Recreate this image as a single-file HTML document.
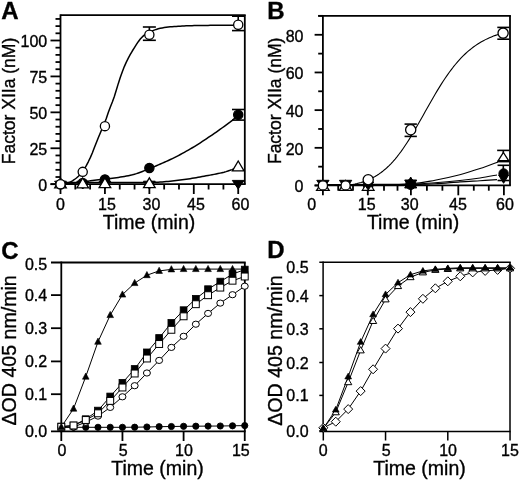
<!DOCTYPE html>
<html><head><meta charset="utf-8"><style>
html,body{margin:0;padding:0;background:#fff;overflow:hidden;}
svg{display:block;}
text{font-family:"Liberation Sans",sans-serif;fill:#000;stroke:#000;stroke-width:0.35px;}
svg{filter:grayscale(1) blur(0.3px);}
</style></head><body>
<svg width="520" height="481" viewBox="0 0 520 481">
<rect width="520" height="481" fill="#fff"/>
<line x1="60.5" y1="14.3" x2="60.5" y2="185.1" stroke="#000" stroke-width="1.8"/>
<line x1="60.5" y1="15.2" x2="245.7" y2="15.2" stroke="#000" stroke-width="1.8"/>
<line x1="244.8" y1="15.2" x2="244.8" y2="184.2" stroke="#000" stroke-width="1.8"/>
<line x1="50.5" y1="184.2" x2="245.7" y2="184.2" stroke="#000" stroke-width="1.8"/>
<line x1="50.5" y1="184.2" x2="60.5" y2="184.2" stroke="#000" stroke-width="1.8"/>
<line x1="55.5" y1="177.01" x2="60.5" y2="177.01" stroke="#000" stroke-width="1.8"/>
<line x1="55.5" y1="169.83" x2="60.5" y2="169.83" stroke="#000" stroke-width="1.8"/>
<line x1="55.5" y1="162.64" x2="60.5" y2="162.64" stroke="#000" stroke-width="1.8"/>
<line x1="55.5" y1="155.46" x2="60.5" y2="155.46" stroke="#000" stroke-width="1.8"/>
<line x1="50.5" y1="148.27" x2="60.5" y2="148.27" stroke="#000" stroke-width="1.8"/>
<line x1="55.5" y1="141.09" x2="60.5" y2="141.09" stroke="#000" stroke-width="1.8"/>
<line x1="55.5" y1="133.9" x2="60.5" y2="133.9" stroke="#000" stroke-width="1.8"/>
<line x1="55.5" y1="126.72" x2="60.5" y2="126.72" stroke="#000" stroke-width="1.8"/>
<line x1="55.5" y1="119.53" x2="60.5" y2="119.53" stroke="#000" stroke-width="1.8"/>
<line x1="50.5" y1="112.35" x2="60.5" y2="112.35" stroke="#000" stroke-width="1.8"/>
<line x1="55.5" y1="105.16" x2="60.5" y2="105.16" stroke="#000" stroke-width="1.8"/>
<line x1="55.5" y1="97.98" x2="60.5" y2="97.98" stroke="#000" stroke-width="1.8"/>
<line x1="55.5" y1="90.79" x2="60.5" y2="90.79" stroke="#000" stroke-width="1.8"/>
<line x1="55.5" y1="83.61" x2="60.5" y2="83.61" stroke="#000" stroke-width="1.8"/>
<line x1="50.5" y1="76.42" x2="60.5" y2="76.42" stroke="#000" stroke-width="1.8"/>
<line x1="55.5" y1="69.24" x2="60.5" y2="69.24" stroke="#000" stroke-width="1.8"/>
<line x1="55.5" y1="62.05" x2="60.5" y2="62.05" stroke="#000" stroke-width="1.8"/>
<line x1="55.5" y1="54.87" x2="60.5" y2="54.87" stroke="#000" stroke-width="1.8"/>
<line x1="55.5" y1="47.68" x2="60.5" y2="47.68" stroke="#000" stroke-width="1.8"/>
<line x1="50.5" y1="40.5" x2="60.5" y2="40.5" stroke="#000" stroke-width="1.8"/>
<line x1="55.5" y1="33.31" x2="60.5" y2="33.31" stroke="#000" stroke-width="1.8"/>
<line x1="55.5" y1="26.13" x2="60.5" y2="26.13" stroke="#000" stroke-width="1.8"/>
<line x1="55.5" y1="18.94" x2="60.5" y2="18.94" stroke="#000" stroke-width="1.8"/>
<line x1="60.5" y1="184.2" x2="60.5" y2="194" stroke="#000" stroke-width="1.8"/>
<line x1="75.31" y1="184.2" x2="75.31" y2="189.5" stroke="#000" stroke-width="1.8"/>
<line x1="90.12" y1="184.2" x2="90.12" y2="189.5" stroke="#000" stroke-width="1.8"/>
<line x1="104.93" y1="184.2" x2="104.93" y2="194" stroke="#000" stroke-width="1.8"/>
<line x1="119.74" y1="184.2" x2="119.74" y2="189.5" stroke="#000" stroke-width="1.8"/>
<line x1="134.55" y1="184.2" x2="134.55" y2="189.5" stroke="#000" stroke-width="1.8"/>
<line x1="149.36" y1="184.2" x2="149.36" y2="194" stroke="#000" stroke-width="1.8"/>
<line x1="164.17" y1="184.2" x2="164.17" y2="189.5" stroke="#000" stroke-width="1.8"/>
<line x1="178.98" y1="184.2" x2="178.98" y2="189.5" stroke="#000" stroke-width="1.8"/>
<line x1="193.79" y1="184.2" x2="193.79" y2="194" stroke="#000" stroke-width="1.8"/>
<line x1="208.6" y1="184.2" x2="208.6" y2="189.5" stroke="#000" stroke-width="1.8"/>
<line x1="223.41" y1="184.2" x2="223.41" y2="189.5" stroke="#000" stroke-width="1.8"/>
<line x1="238.22" y1="184.2" x2="238.22" y2="194" stroke="#000" stroke-width="1.8"/>
<text x="47.2" y="190.7" font-size="16" text-anchor="end" font-weight="normal" >0</text>
<text x="47.2" y="154.77" font-size="16" text-anchor="end" font-weight="normal" >25</text>
<text x="47.2" y="118.85" font-size="16" text-anchor="end" font-weight="normal" >50</text>
<text x="47.2" y="82.92" font-size="16" text-anchor="end" font-weight="normal" >75</text>
<text x="47.2" y="47" font-size="16" text-anchor="end" font-weight="normal" >100</text>
<text x="60.4" y="209.8" font-size="16" text-anchor="middle" font-weight="normal" >0</text>
<text x="107" y="209.8" font-size="16" text-anchor="middle" font-weight="normal" >15</text>
<text x="151.5" y="209.8" font-size="16" text-anchor="middle" font-weight="normal" >30</text>
<text x="196" y="209.8" font-size="16" text-anchor="middle" font-weight="normal" >45</text>
<text x="240.5" y="209.8" font-size="16" text-anchor="middle" font-weight="normal" >60</text>
<text x="149.05" y="229" font-size="19.5" text-anchor="middle" font-weight="normal" >Time (min)</text>
<text transform="translate(15.3,101.0) rotate(-90)" font-size="17.5" text-anchor="middle">Factor XIIa (nM)</text>
<text x="1.2" y="19.2" font-size="24" text-anchor="start" font-weight="bold" >A</text>
<path d="M60.5,184.2 L62.49,184.07 L64.49,183.74 L66.48,183.26 L68.48,182.69 L70.47,181.95 L72.47,180.84 L74.46,179.48 L76.46,178 L78.45,176.25 L80.44,174.17 L82.44,171.78 L84.43,168.89 L86.43,165.42 L88.42,161.54 L90.42,157.41 L92.41,152.71 L94.4,147.57 L96.4,142.45 L98.39,137.53 L100.39,132.68 L102.38,128.1 L104.38,123.55 L106.37,118.22 L108.37,112.34 L110.36,107.01 L112.35,102.04 L114.35,96.41 L116.34,89.98 L118.34,83.4 L120.33,77.35 L122.33,71.75 L124.32,66.6 L126.31,62.12 L128.31,58.14 L130.3,54.45 L132.3,51.02 L134.29,47.81 L136.29,44.69 L138.28,41.67 L140.28,39.08 L142.27,36.9 L144.26,35.15 L146.26,33.78 L148.25,32.64 L150.25,31.69 L152.24,30.85 L154.24,30.09 L156.23,29.41 L158.22,28.83 L160.22,28.35 L162.21,27.94 L164.21,27.56 L166.2,27.23 L168.2,26.97 L170.19,26.79 L172.19,26.64 L174.18,26.5 L176.17,26.38 L178.17,26.26 L180.16,26.15 L182.16,26.05 L184.15,25.96 L186.15,25.87 L188.14,25.79 L190.13,25.73 L192.13,25.67 L194.12,25.61 L196.12,25.57 L198.11,25.53 L200.11,25.5 L202.1,25.47 L204.1,25.45 L206.09,25.42 L208.08,25.4 L210.08,25.37 L212.07,25.35 L214.07,25.33 L216.06,25.31 L218.06,25.29 L220.05,25.28 L222.04,25.26 L224.04,25.25 L226.03,25.24 L228.03,25.22 L230.02,25.22 L232.02,25.21 L234.01,25.2 L236.01,25.2 L238,25.2" fill="none" stroke="#000" stroke-width="1.5" stroke-linejoin="round"/>
<path d="M60.5,184 L62.5,183.92 L64.5,183.81 L66.49,183.69 L68.49,183.55 L70.49,183.39 L72.49,183.22 L74.48,183.05 L76.48,182.85 L78.48,182.61 L80.48,182.34 L82.48,182.05 L84.47,181.74 L86.47,181.43 L88.47,181.13 L90.47,180.84 L92.46,180.58 L94.46,180.32 L96.46,180.06 L98.46,179.81 L100.46,179.56 L102.45,179.31 L104.45,179.07 L106.45,178.83 L108.45,178.6 L110.44,178.38 L112.44,178.16 L114.44,177.93 L116.44,177.68 L118.43,177.39 L120.43,177.09 L122.43,176.76 L124.43,176.42 L126.43,176.04 L128.42,175.64 L130.42,175.21 L132.42,174.74 L134.42,174.22 L136.41,173.61 L138.41,172.92 L140.41,172.19 L142.41,171.43 L144.41,170.67 L146.4,169.91 L148.4,169.11 L150.4,168.28 L152.4,167.44 L154.39,166.59 L156.39,165.74 L158.39,164.88 L160.39,164.02 L162.39,163.16 L164.38,162.28 L166.38,161.39 L168.38,160.48 L170.38,159.55 L172.37,158.6 L174.37,157.62 L176.37,156.61 L178.37,155.58 L180.37,154.52 L182.36,153.44 L184.36,152.34 L186.36,151.22 L188.36,150.08 L190.35,148.92 L192.35,147.74 L194.35,146.55 L196.35,145.32 L198.34,144.07 L200.34,142.79 L202.34,141.49 L204.34,140.17 L206.34,138.84 L208.33,137.49 L210.33,136.14 L212.33,134.78 L214.33,133.41 L216.32,132.02 L218.32,130.61 L220.32,129.18 L222.32,127.74 L224.32,126.29 L226.31,124.83 L228.31,123.39 L230.31,121.95 L232.31,120.4 L234.3,118.68 L236.3,116.73 L238.3,114.6" fill="none" stroke="#000" stroke-width="1.5" stroke-linejoin="round"/>
<path d="M60.5,182.4 L62.49,182.4 L64.49,182.4 L66.48,182.4 L68.48,182.4 L70.47,182.4 L72.47,182.4 L74.46,182.4 L76.46,182.4 L78.45,182.4 L80.44,182.4 L82.44,182.4 L84.43,182.4 L86.43,182.4 L88.42,182.4 L90.42,182.4 L92.41,182.4 L94.4,182.4 L96.4,182.4 L98.39,182.4 L100.39,182.4 L102.38,182.4 L104.38,182.4 L106.37,182.4 L108.37,182.4 L110.36,182.4 L112.35,182.4 L114.35,182.4 L116.34,182.4 L118.34,182.4 L120.33,182.4 L122.33,182.4 L124.32,182.4 L126.31,182.4 L128.31,182.4 L130.3,182.4 L132.3,182.4 L134.29,182.4 L136.29,182.4 L138.28,182.4 L140.28,182.4 L142.27,182.4 L144.26,182.4 L146.26,182.4 L148.25,182.4 L150.25,182.4 L152.24,182.37 L154.24,182.33 L156.23,182.28 L158.22,182.19 L160.22,182.07 L162.21,181.93 L164.21,181.76 L166.2,181.59 L168.2,181.41 L170.19,181.23 L172.19,181.03 L174.18,180.81 L176.17,180.58 L178.17,180.33 L180.16,180.08 L182.16,179.81 L184.15,179.54 L186.15,179.26 L188.14,178.98 L190.13,178.67 L192.13,178.35 L194.12,178.02 L196.12,177.68 L198.11,177.32 L200.11,176.96 L202.1,176.6 L204.1,176.23 L206.09,175.86 L208.08,175.5 L210.08,175.13 L212.07,174.76 L214.07,174.38 L216.06,173.99 L218.06,173.57 L220.05,173.13 L222.04,172.66 L224.04,172.16 L226.03,171.6 L228.03,170.98 L230.02,170.32 L232.02,169.6 L234.01,168.82 L236.01,167.94 L238,167" fill="none" stroke="#000" stroke-width="1.5" stroke-linejoin="round"/>
<line x1="149.36" y1="27" x2="149.36" y2="40.3" stroke="#000" stroke-width="1.6"/>
<line x1="142.86" y1="27" x2="155.86" y2="27" stroke="#000" stroke-width="1.6"/>
<line x1="142.86" y1="40.3" x2="155.86" y2="40.3" stroke="#000" stroke-width="1.6"/>
<line x1="238.22" y1="16.2" x2="238.22" y2="30.6" stroke="#000" stroke-width="1.6"/>
<line x1="231.97" y1="16.2" x2="244.47" y2="16.2" stroke="#000" stroke-width="1.6"/>
<line x1="231.97" y1="30.6" x2="244.47" y2="30.6" stroke="#000" stroke-width="1.6"/>
<line x1="238.22" y1="109.5" x2="238.22" y2="120.1" stroke="#000" stroke-width="1.6"/>
<line x1="231.97" y1="109.5" x2="244.47" y2="109.5" stroke="#000" stroke-width="1.6"/>
<line x1="231.97" y1="120.1" x2="244.47" y2="120.1" stroke="#000" stroke-width="1.6"/>
<path d="M54.6,181.2 L66.4,181.2 L60.5,189Z" fill="#000" stroke="#000" stroke-width="1.0"/>
<path d="M76.81,181.2 L88.62,181.2 L82.72,189Z" fill="#000" stroke="#000" stroke-width="1.0"/>
<path d="M99.03,181.2 L110.83,181.2 L104.93,189Z" fill="#000" stroke="#000" stroke-width="1.0"/>
<path d="M143.46,181.2 L155.26,181.2 L149.36,189Z" fill="#000" stroke="#000" stroke-width="1.0"/>
<path d="M232.32,180.4 L244.12,180.4 L238.22,189Z" fill="#000" stroke="#000" stroke-width="1.0"/>
<circle cx="60.5" cy="184.2" r="4.6" fill="#000" stroke="#000" stroke-width="1.3"/>
<circle cx="82.72" cy="183.05" r="4.6" fill="#000" stroke="#000" stroke-width="1.3"/>
<circle cx="104.93" cy="179.46" r="4.6" fill="#000" stroke="#000" stroke-width="1.3"/>
<circle cx="149.36" cy="167.96" r="4.6" fill="#000" stroke="#000" stroke-width="1.3"/>
<circle cx="238.22" cy="114.79" r="4.6" fill="#000" stroke="#000" stroke-width="1.3"/>
<path d="M60.5,178 L66.3,187.8 L54.7,187.8Z" fill="#fff" stroke="#000" stroke-width="1.3"/>
<path d="M82.72,178 L88.52,187.8 L76.92,187.8Z" fill="#fff" stroke="#000" stroke-width="1.3"/>
<path d="M104.93,177.9 L110.73,187.7 L99.13,187.7Z" fill="#fff" stroke="#000" stroke-width="1.3"/>
<path d="M149.36,177.8 L155.16,187.6 L143.56,187.6Z" fill="#fff" stroke="#000" stroke-width="1.3"/>
<path d="M238.22,161 L244.02,170.8 L232.42,170.8Z" fill="#fff" stroke="#000" stroke-width="1.3"/>
<circle cx="60.5" cy="184.2" r="4.6" fill="#fff" stroke="#000" stroke-width="1.3"/>
<circle cx="82.72" cy="171.84" r="4.6" fill="#fff" stroke="#000" stroke-width="1.3"/>
<circle cx="104.93" cy="126.15" r="4.6" fill="#fff" stroke="#000" stroke-width="1.3"/>
<circle cx="149.36" cy="34.75" r="4.6" fill="#fff" stroke="#000" stroke-width="1.3"/>
<circle cx="238.22" cy="24.69" r="4.6" fill="#fff" stroke="#000" stroke-width="1.3"/>
<line x1="322.9" y1="14.95" x2="322.9" y2="186.2" stroke="#000" stroke-width="1.8"/>
<line x1="318.2" y1="15.85" x2="510.9" y2="15.85" stroke="#000" stroke-width="1.8"/>
<line x1="510" y1="15.85" x2="510" y2="185.3" stroke="#000" stroke-width="1.8"/>
<line x1="314.6" y1="185.3" x2="510.9" y2="185.3" stroke="#000" stroke-width="1.8"/>
<line x1="314.6" y1="185.5" x2="322.9" y2="185.5" stroke="#000" stroke-width="1.8"/>
<line x1="318.2" y1="166.66" x2="322.9" y2="166.66" stroke="#000" stroke-width="1.8"/>
<line x1="314.6" y1="147.82" x2="322.9" y2="147.82" stroke="#000" stroke-width="1.8"/>
<line x1="318.2" y1="128.98" x2="322.9" y2="128.98" stroke="#000" stroke-width="1.8"/>
<line x1="314.6" y1="110.14" x2="322.9" y2="110.14" stroke="#000" stroke-width="1.8"/>
<line x1="318.2" y1="91.3" x2="322.9" y2="91.3" stroke="#000" stroke-width="1.8"/>
<line x1="314.6" y1="72.46" x2="322.9" y2="72.46" stroke="#000" stroke-width="1.8"/>
<line x1="318.2" y1="53.62" x2="322.9" y2="53.62" stroke="#000" stroke-width="1.8"/>
<line x1="314.6" y1="34.78" x2="322.9" y2="34.78" stroke="#000" stroke-width="1.8"/>
<line x1="318.2" y1="15.85" x2="322.9" y2="15.85" stroke="#000" stroke-width="1.8"/>
<line x1="322.9" y1="185.3" x2="322.9" y2="195.3" stroke="#000" stroke-width="1.8"/>
<line x1="338.2" y1="185.3" x2="338.2" y2="190.7" stroke="#000" stroke-width="1.8"/>
<line x1="353" y1="185.3" x2="353" y2="190.7" stroke="#000" stroke-width="1.8"/>
<line x1="367.8" y1="185.3" x2="367.8" y2="195.3" stroke="#000" stroke-width="1.8"/>
<line x1="384" y1="185.3" x2="384" y2="190.7" stroke="#000" stroke-width="1.8"/>
<line x1="397.5" y1="185.3" x2="397.5" y2="190.7" stroke="#000" stroke-width="1.8"/>
<line x1="410.9" y1="185.3" x2="410.9" y2="195.3" stroke="#000" stroke-width="1.8"/>
<line x1="426.9" y1="185.3" x2="426.9" y2="190.7" stroke="#000" stroke-width="1.8"/>
<line x1="442.4" y1="185.3" x2="442.4" y2="190.7" stroke="#000" stroke-width="1.8"/>
<line x1="458.3" y1="185.3" x2="458.3" y2="195.3" stroke="#000" stroke-width="1.8"/>
<line x1="473.8" y1="185.3" x2="473.8" y2="190.7" stroke="#000" stroke-width="1.8"/>
<line x1="488.8" y1="185.3" x2="488.8" y2="190.7" stroke="#000" stroke-width="1.8"/>
<line x1="503.9" y1="185.3" x2="503.9" y2="195.3" stroke="#000" stroke-width="1.8"/>
<text x="303.5" y="192.4" font-size="16" text-anchor="end" font-weight="normal" >0</text>
<text x="303.5" y="154.72" font-size="16" text-anchor="end" font-weight="normal" >20</text>
<text x="303.5" y="117.04" font-size="16" text-anchor="end" font-weight="normal" >40</text>
<text x="303.5" y="79.36" font-size="16" text-anchor="end" font-weight="normal" >60</text>
<text x="303.5" y="41.68" font-size="16" text-anchor="end" font-weight="normal" >80</text>
<text x="311.8" y="210.2" font-size="16" text-anchor="middle" font-weight="normal" >0</text>
<text x="366.7" y="210.2" font-size="16" text-anchor="middle" font-weight="normal" >15</text>
<text x="409.7" y="210.2" font-size="16" text-anchor="middle" font-weight="normal" >30</text>
<text x="458" y="210.2" font-size="16" text-anchor="middle" font-weight="normal" >45</text>
<text x="505" y="210.2" font-size="16" text-anchor="middle" font-weight="normal" >60</text>
<text x="413.1" y="228.6" font-size="19.5" text-anchor="middle" font-weight="normal" >Time (min)</text>
<text transform="translate(281.2,100.85) rotate(-90)" font-size="17.5" text-anchor="middle">Factor XIIa (nM)</text>
<text x="267.2" y="19.4" font-size="24" text-anchor="start" font-weight="bold" >B</text>
<path d="M322.9,185.3 L324.91,185.3 L326.91,185.3 L328.92,185.3 L330.93,185.3 L332.93,185.3 L334.94,185.3 L336.95,185.3 L338.95,185.3 L340.96,185.3 L342.97,185.3 L344.97,185.3 L346.98,185.3 L348.99,185.19 L350.99,184.85 L353,184.47 L355.01,184.05 L357.01,183.58 L359.02,183.05 L361.03,182.48 L363.03,181.84 L365.04,181.14 L367.05,180.37 L369.05,179.52 L371.06,178.59 L373.07,177.57 L375.07,176.45 L377.08,175.24 L379.09,173.92 L381.09,172.5 L383.1,170.95 L385.11,169.29 L387.11,167.5 L389.12,165.59 L391.13,163.54 L393.13,161.36 L395.14,159.05 L397.15,156.61 L399.15,154.03 L401.16,151.33 L403.17,148.5 L405.17,145.55 L407.18,142.49 L409.19,139.33 L411.19,136.07 L413.2,132.73 L415.21,129.32 L417.21,125.84 L419.22,122.32 L421.23,118.76 L423.23,115.18 L425.24,111.59 L427.25,108.01 L429.25,104.45 L431.26,100.92 L433.27,97.44 L435.27,94 L437.28,90.64 L439.29,87.35 L441.29,84.14 L443.3,81.02 L445.31,78 L447.31,75.08 L449.32,72.27 L451.33,69.56 L453.33,66.97 L455.34,64.49 L457.35,62.12 L459.35,59.86 L461.36,57.72 L463.37,55.68 L465.37,53.75 L467.38,51.92 L469.39,50.2 L471.39,48.57 L473.4,47.04 L475.41,45.6 L477.41,44.25 L479.42,42.98 L481.43,41.79 L483.43,40.67 L485.44,39.63 L487.45,38.65 L489.45,37.74 L491.46,36.89 L493.47,36.1 L495.47,35.36 L497.48,34.67 L499.49,34.03 L501.49,33.44 L503.5,32.88" fill="none" stroke="#000" stroke-width="1.1" stroke-linejoin="round"/>
<path d="M322.9,184.6 C330.42,184.57 353.4,184.53 368,184.4 C382.6,184.27 399.33,184.5 410.5,183.8 C421.67,183.1 426.78,181.72 435,180.2 C443.22,178.68 452.3,176.63 459.8,174.7 C467.3,172.77 473.63,170.72 480,168.6 C486.37,166.48 495,163.1 498,162" fill="none" stroke="#000" stroke-width="1.1"/>
<path d="M322.9,184.8 C330.42,184.77 353.4,184.7 368,184.6 C382.6,184.5 399.33,184.5 410.5,184.2 C421.67,183.9 426.75,183.42 435,182.8 C443.25,182.18 452.5,181.3 460,180.5 C467.5,179.7 473.83,178.92 480,178 C486.17,177.08 494.17,175.5 497,175" fill="none" stroke="#000" stroke-width="1.1"/>
<path d="M322.9,185 C337.5,184.93 391.82,184.8 410.5,184.6 C429.18,184.4 426.75,184.25 435,183.8 C443.25,183.35 452.5,182.42 460,181.9 C467.5,181.38 473.83,181.08 480,180.7 C486.17,180.32 494.17,179.78 497,179.6" fill="none" stroke="#000" stroke-width="1.1"/>
<line x1="410.7" y1="124.1" x2="410.7" y2="136.4" stroke="#000" stroke-width="1.6"/>
<line x1="404.55" y1="124.1" x2="416.85" y2="124.1" stroke="#000" stroke-width="1.6"/>
<line x1="404.55" y1="136.4" x2="416.85" y2="136.4" stroke="#000" stroke-width="1.6"/>
<line x1="503.3" y1="27.4" x2="503.3" y2="39.2" stroke="#000" stroke-width="1.6"/>
<line x1="497.3" y1="27.4" x2="509.3" y2="27.4" stroke="#000" stroke-width="1.6"/>
<line x1="497.3" y1="39.2" x2="509.3" y2="39.2" stroke="#000" stroke-width="1.6"/>
<line x1="503.3" y1="150.4" x2="503.3" y2="161.6" stroke="#000" stroke-width="1.6"/>
<line x1="497.15" y1="150.4" x2="509.45" y2="150.4" stroke="#000" stroke-width="1.6"/>
<line x1="497.15" y1="161.6" x2="509.45" y2="161.6" stroke="#000" stroke-width="1.6"/>
<line x1="503.3" y1="165.3" x2="503.3" y2="180.5" stroke="#000" stroke-width="1.6"/>
<line x1="497.55" y1="165.3" x2="509.05" y2="165.3" stroke="#000" stroke-width="1.6"/>
<line x1="497.55" y1="180.5" x2="509.05" y2="180.5" stroke="#000" stroke-width="1.6"/>
<path d="M316.75,180.3 L329.05,180.3 L322.9,189.5Z" fill="#000" stroke="#000" stroke-width="1.0"/>
<path d="M322.9,180.5 L329.2,190.3 L316.6,190.3Z" fill="#fff" stroke="#000" stroke-width="1.3"/>
<circle cx="322.9" cy="185.4" r="4.6" fill="#fff" stroke="#000" stroke-width="1.3"/>
<path d="M339.45,180.3 L351.75,180.3 L345.6,189.5Z" fill="#000" stroke="#000" stroke-width="1.0"/>
<path d="M345.6,180.5 L351.9,190.3 L339.3,190.3Z" fill="#fff" stroke="#000" stroke-width="1.3"/>
<circle cx="345.6" cy="185.4" r="4.6" fill="#fff" stroke="#000" stroke-width="1.3"/>
<circle cx="368.2" cy="186" r="4.6" fill="#000" stroke="#000" stroke-width="1.2"/>
<path d="M368.2,181 L374.1,190.3 L362.3,190.3Z" fill="#fff" stroke="#000" stroke-width="1.2"/>
<path d="M362.7,182 L373.7,182 L368.2,190Z" fill="#000" stroke="#000" stroke-width="1.0"/>
<circle cx="368.2" cy="179.7" r="5.1" fill="#fff" stroke="#000" stroke-width="1.3"/>
<path d="M410.7,177 L416.7,188 L404.7,188Z" fill="#000" stroke="#000" stroke-width="1.0"/>
<path d="M404.7,180 L416.7,180 L410.7,190Z" fill="#000" stroke="#000" stroke-width="1.0"/>
<circle cx="410.7" cy="184.5" r="5" fill="#000" stroke="#000" stroke-width="1.0"/>
<circle cx="410.7" cy="129.8" r="5.1" fill="#fff" stroke="#000" stroke-width="1.3"/>
<path d="M498.6,175 L508.6,175 L503.6,183.3Z" fill="#000" stroke="#000" stroke-width="1.0"/>
<circle cx="503.6" cy="173.5" r="4.7" fill="#000" stroke="#000" stroke-width="1.0"/>
<path d="M503.4,152.5 L508.6,160.6 L498.2,160.6Z" fill="#fff" stroke="#000" stroke-width="1.3"/>
<circle cx="503.1" cy="33.1" r="5.1" fill="#fff" stroke="#000" stroke-width="1.3"/>
<line x1="61.3" y1="261.6" x2="61.3" y2="432.3" stroke="#000" stroke-width="1.8"/>
<line x1="51" y1="262.5" x2="245.7" y2="262.5" stroke="#000" stroke-width="1.8"/>
<line x1="244.8" y1="262.5" x2="244.8" y2="431.4" stroke="#000" stroke-width="1.8"/>
<line x1="51" y1="431.4" x2="245.7" y2="431.4" stroke="#000" stroke-width="1.8"/>
<line x1="51" y1="295.1" x2="61.3" y2="295.1" stroke="#000" stroke-width="1.8"/>
<line x1="51" y1="328.2" x2="61.3" y2="328.2" stroke="#000" stroke-width="1.8"/>
<line x1="51" y1="361.4" x2="61.3" y2="361.4" stroke="#000" stroke-width="1.8"/>
<line x1="51" y1="394.2" x2="61.3" y2="394.2" stroke="#000" stroke-width="1.8"/>
<line x1="61.3" y1="431.4" x2="61.3" y2="441" stroke="#000" stroke-width="1.8"/>
<line x1="122.45" y1="431.4" x2="122.45" y2="441" stroke="#000" stroke-width="1.8"/>
<line x1="183.6" y1="431.4" x2="183.6" y2="441" stroke="#000" stroke-width="1.8"/>
<line x1="244.75" y1="431.4" x2="244.75" y2="441" stroke="#000" stroke-width="1.8"/>
<text x="47.2" y="270.2" font-size="16" text-anchor="end" font-weight="normal" >0.5</text>
<text x="47.2" y="300.7" font-size="16" text-anchor="end" font-weight="normal" >0.4</text>
<text x="47.2" y="334" font-size="16" text-anchor="end" font-weight="normal" >0.3</text>
<text x="47.2" y="367" font-size="16" text-anchor="end" font-weight="normal" >0.2</text>
<text x="47.2" y="400.3" font-size="16" text-anchor="end" font-weight="normal" >0.1</text>
<text x="47.2" y="437.3" font-size="16" text-anchor="end" font-weight="normal" >0.0</text>
<text x="61.9" y="455.8" font-size="16" text-anchor="middle" font-weight="normal" >0</text>
<text x="123.2" y="455.8" font-size="16" text-anchor="middle" font-weight="normal" >5</text>
<text x="184" y="455.8" font-size="16" text-anchor="middle" font-weight="normal" >10</text>
<text x="240.8" y="455.8" font-size="16" text-anchor="middle" font-weight="normal" >15</text>
<text x="157.5" y="475" font-size="19.5" text-anchor="middle" font-weight="normal" >Time (min)</text>
<text transform="translate(15.8,350.4) rotate(-90)" font-size="19.6" text-anchor="middle">ΔOD 405 nm/min</text>
<text x="1.2" y="259" font-size="24" text-anchor="start" font-weight="bold" >C</text>
<path d="M61.3,427.3 L73.53,427.3 L85.76,427.3 L97.99,427.3 L110.22,427.3 L122.45,427.3 L134.68,427.2 L146.91,427 L159.14,426.7 L171.37,426.5 L183.6,426.3 L195.83,426.2 L208.06,426.1 L220.29,426 L232.52,425.8 L244.75,425.6" fill="none" stroke="#000" stroke-width="1.0" stroke-linejoin="round"/>
<path d="M61.3,427.2 L73.53,427 L85.76,422.2 L97.99,416.1 L110.22,407.4 L122.45,396.8 L134.68,385.7 L146.91,373 L159.14,360.4 L171.37,347.4 L183.6,336.3 L195.83,324.2 L208.06,313.4 L220.29,303.1 L232.52,294.7 L244.75,286.2" fill="none" stroke="#000" stroke-width="1.0" stroke-linejoin="round"/>
<path d="M61.3,426.8 L73.53,425.5 L85.76,420 L97.99,413.3 L110.22,400.9 L122.45,387.5 L134.68,373.5 L146.91,358.5 L159.14,344 L171.37,329.8 L183.6,316.3 L195.83,304.2 L208.06,295.2 L220.29,287.6 L232.52,280.7 L244.75,276.5" fill="none" stroke="#000" stroke-width="1.0" stroke-linejoin="round"/>
<path d="M61.3,426.6 L73.53,425.5 L85.76,419.2 L97.99,410.6 L110.22,396.5 L122.45,382.8 L134.68,369 L146.91,352.4 L159.14,338 L171.37,322.9 L183.6,310.2 L195.83,298.8 L208.06,289.2 L220.29,281.6 L232.52,274.1 L244.75,269.6" fill="none" stroke="#000" stroke-width="1.0" stroke-linejoin="round"/>
<path d="M61.3,427 L73.53,408.7 L85.76,376.7 L97.99,341.8 L110.22,315.1 L122.45,294.6 L134.68,283.1 L146.91,275.2 L159.14,270.9 L171.37,269.4 L183.6,269.1 L195.83,269.1 L208.06,269.1 L220.29,269.1 L232.52,269.1 L244.75,269.1" fill="none" stroke="#000" stroke-width="1.0" stroke-linejoin="round"/>
<circle cx="61.3" cy="427.3" r="3.1" fill="#000" stroke="#000" stroke-width="0.9"/>
<circle cx="73.53" cy="427.3" r="3.1" fill="#000" stroke="#000" stroke-width="0.9"/>
<circle cx="85.76" cy="427.3" r="3.1" fill="#000" stroke="#000" stroke-width="0.9"/>
<circle cx="97.99" cy="427.3" r="3.1" fill="#000" stroke="#000" stroke-width="0.9"/>
<circle cx="110.22" cy="427.3" r="3.1" fill="#000" stroke="#000" stroke-width="0.9"/>
<circle cx="122.45" cy="427.3" r="3.1" fill="#000" stroke="#000" stroke-width="0.9"/>
<circle cx="134.68" cy="427.2" r="3.1" fill="#000" stroke="#000" stroke-width="0.9"/>
<circle cx="146.91" cy="427" r="3.1" fill="#000" stroke="#000" stroke-width="0.9"/>
<circle cx="159.14" cy="426.7" r="3.1" fill="#000" stroke="#000" stroke-width="0.9"/>
<circle cx="171.37" cy="426.5" r="3.1" fill="#000" stroke="#000" stroke-width="0.9"/>
<circle cx="183.6" cy="426.3" r="3.1" fill="#000" stroke="#000" stroke-width="0.9"/>
<circle cx="195.83" cy="426.2" r="3.1" fill="#000" stroke="#000" stroke-width="0.9"/>
<circle cx="208.06" cy="426.1" r="3.1" fill="#000" stroke="#000" stroke-width="0.9"/>
<circle cx="220.29" cy="426" r="3.1" fill="#000" stroke="#000" stroke-width="0.9"/>
<circle cx="232.52" cy="425.8" r="3.1" fill="#000" stroke="#000" stroke-width="0.9"/>
<circle cx="244.75" cy="425.6" r="3.1" fill="#000" stroke="#000" stroke-width="0.9"/>
<ellipse cx="61.3" cy="427.2" rx="3.5" ry="3.1" fill="#fff" stroke="#000" stroke-width="1"/>
<ellipse cx="73.53" cy="427" rx="3.5" ry="3.1" fill="#fff" stroke="#000" stroke-width="1"/>
<ellipse cx="85.76" cy="422.2" rx="3.5" ry="3.1" fill="#fff" stroke="#000" stroke-width="1"/>
<ellipse cx="97.99" cy="416.1" rx="3.5" ry="3.1" fill="#fff" stroke="#000" stroke-width="1"/>
<ellipse cx="110.22" cy="407.4" rx="3.5" ry="3.1" fill="#fff" stroke="#000" stroke-width="1"/>
<ellipse cx="122.45" cy="396.8" rx="3.5" ry="3.1" fill="#fff" stroke="#000" stroke-width="1"/>
<ellipse cx="134.68" cy="385.7" rx="3.5" ry="3.1" fill="#fff" stroke="#000" stroke-width="1"/>
<ellipse cx="146.91" cy="373" rx="3.5" ry="3.1" fill="#fff" stroke="#000" stroke-width="1"/>
<ellipse cx="159.14" cy="360.4" rx="3.5" ry="3.1" fill="#fff" stroke="#000" stroke-width="1"/>
<ellipse cx="171.37" cy="347.4" rx="3.5" ry="3.1" fill="#fff" stroke="#000" stroke-width="1"/>
<ellipse cx="183.6" cy="336.3" rx="3.5" ry="3.1" fill="#fff" stroke="#000" stroke-width="1"/>
<ellipse cx="195.83" cy="324.2" rx="3.5" ry="3.1" fill="#fff" stroke="#000" stroke-width="1"/>
<ellipse cx="208.06" cy="313.4" rx="3.5" ry="3.1" fill="#fff" stroke="#000" stroke-width="1"/>
<ellipse cx="220.29" cy="303.1" rx="3.5" ry="3.1" fill="#fff" stroke="#000" stroke-width="1"/>
<ellipse cx="232.52" cy="294.7" rx="3.5" ry="3.1" fill="#fff" stroke="#000" stroke-width="1"/>
<ellipse cx="244.75" cy="286.2" rx="3.5" ry="3.1" fill="#fff" stroke="#000" stroke-width="1"/>
<rect x="57.9" y="423.2" width="6.8" height="6.8" fill="#000" stroke="#000" stroke-width="0.8"/>
<rect x="70.13" y="422.1" width="6.8" height="6.8" fill="#000" stroke="#000" stroke-width="0.8"/>
<rect x="82.36" y="415.8" width="6.8" height="6.8" fill="#000" stroke="#000" stroke-width="0.8"/>
<rect x="94.59" y="407.2" width="6.8" height="6.8" fill="#000" stroke="#000" stroke-width="0.8"/>
<rect x="106.82" y="393.1" width="6.8" height="6.8" fill="#000" stroke="#000" stroke-width="0.8"/>
<rect x="119.05" y="379.4" width="6.8" height="6.8" fill="#000" stroke="#000" stroke-width="0.8"/>
<rect x="131.28" y="365.6" width="6.8" height="6.8" fill="#000" stroke="#000" stroke-width="0.8"/>
<rect x="143.51" y="349" width="6.8" height="6.8" fill="#000" stroke="#000" stroke-width="0.8"/>
<rect x="155.74" y="334.6" width="6.8" height="6.8" fill="#000" stroke="#000" stroke-width="0.8"/>
<rect x="167.97" y="319.5" width="6.8" height="6.8" fill="#000" stroke="#000" stroke-width="0.8"/>
<rect x="180.2" y="306.8" width="6.8" height="6.8" fill="#000" stroke="#000" stroke-width="0.8"/>
<rect x="192.43" y="295.4" width="6.8" height="6.8" fill="#000" stroke="#000" stroke-width="0.8"/>
<rect x="204.66" y="285.8" width="6.8" height="6.8" fill="#000" stroke="#000" stroke-width="0.8"/>
<rect x="216.89" y="278.2" width="6.8" height="6.8" fill="#000" stroke="#000" stroke-width="0.8"/>
<rect x="229.12" y="270.7" width="6.8" height="6.8" fill="#000" stroke="#000" stroke-width="0.8"/>
<rect x="241.35" y="266.2" width="6.8" height="6.8" fill="#000" stroke="#000" stroke-width="0.8"/>
<rect x="57.85" y="423.35" width="6.9" height="6.9" fill="#fff" stroke="#000" stroke-width="1.0"/>
<rect x="70.08" y="422.05" width="6.9" height="6.9" fill="#fff" stroke="#000" stroke-width="1.0"/>
<rect x="82.31" y="416.55" width="6.9" height="6.9" fill="#fff" stroke="#000" stroke-width="1.0"/>
<rect x="94.54" y="409.85" width="6.9" height="6.9" fill="#fff" stroke="#000" stroke-width="1.0"/>
<rect x="106.77" y="397.45" width="6.9" height="6.9" fill="#fff" stroke="#000" stroke-width="1.0"/>
<rect x="119" y="384.05" width="6.9" height="6.9" fill="#fff" stroke="#000" stroke-width="1.0"/>
<rect x="131.23" y="370.05" width="6.9" height="6.9" fill="#fff" stroke="#000" stroke-width="1.0"/>
<rect x="143.46" y="355.05" width="6.9" height="6.9" fill="#fff" stroke="#000" stroke-width="1.0"/>
<rect x="155.69" y="340.55" width="6.9" height="6.9" fill="#fff" stroke="#000" stroke-width="1.0"/>
<rect x="167.92" y="326.35" width="6.9" height="6.9" fill="#fff" stroke="#000" stroke-width="1.0"/>
<rect x="180.15" y="312.85" width="6.9" height="6.9" fill="#fff" stroke="#000" stroke-width="1.0"/>
<rect x="192.38" y="300.75" width="6.9" height="6.9" fill="#fff" stroke="#000" stroke-width="1.0"/>
<rect x="204.61" y="291.75" width="6.9" height="6.9" fill="#fff" stroke="#000" stroke-width="1.0"/>
<rect x="216.84" y="284.15" width="6.9" height="6.9" fill="#fff" stroke="#000" stroke-width="1.0"/>
<rect x="229.07" y="277.25" width="6.9" height="6.9" fill="#fff" stroke="#000" stroke-width="1.0"/>
<rect x="241.3" y="273.05" width="6.9" height="6.9" fill="#fff" stroke="#000" stroke-width="1.0"/>
<path d="M61.3,423.28 L64.6,429.48 L58,429.48Z" fill="#000" stroke="#000" stroke-width="0.6"/>
<path d="M73.53,404.98 L76.83,411.18 L70.23,411.18Z" fill="#000" stroke="#000" stroke-width="0.6"/>
<path d="M85.76,372.98 L89.06,379.18 L82.46,379.18Z" fill="#000" stroke="#000" stroke-width="0.6"/>
<path d="M97.99,338.08 L101.29,344.28 L94.69,344.28Z" fill="#000" stroke="#000" stroke-width="0.6"/>
<path d="M110.22,311.38 L113.52,317.58 L106.92,317.58Z" fill="#000" stroke="#000" stroke-width="0.6"/>
<path d="M122.45,290.88 L125.75,297.08 L119.15,297.08Z" fill="#000" stroke="#000" stroke-width="0.6"/>
<path d="M134.68,279.38 L137.98,285.58 L131.38,285.58Z" fill="#000" stroke="#000" stroke-width="0.6"/>
<path d="M146.91,271.48 L150.21,277.68 L143.61,277.68Z" fill="#000" stroke="#000" stroke-width="0.6"/>
<path d="M159.14,267.18 L162.44,273.38 L155.84,273.38Z" fill="#000" stroke="#000" stroke-width="0.6"/>
<path d="M171.37,265.68 L174.67,271.88 L168.07,271.88Z" fill="#000" stroke="#000" stroke-width="0.6"/>
<path d="M183.6,265.38 L186.9,271.58 L180.3,271.58Z" fill="#000" stroke="#000" stroke-width="0.6"/>
<path d="M195.83,265.38 L199.13,271.58 L192.53,271.58Z" fill="#000" stroke="#000" stroke-width="0.6"/>
<path d="M208.06,265.38 L211.36,271.58 L204.76,271.58Z" fill="#000" stroke="#000" stroke-width="0.6"/>
<path d="M220.29,265.38 L223.59,271.58 L216.99,271.58Z" fill="#000" stroke="#000" stroke-width="0.6"/>
<path d="M232.52,265.38 L235.82,271.58 L229.22,271.58Z" fill="#000" stroke="#000" stroke-width="0.6"/>
<path d="M244.75,265.38 L248.05,271.58 L241.45,271.58Z" fill="#000" stroke="#000" stroke-width="0.6"/>
<line x1="323.1" y1="261.45" x2="323.1" y2="432.25" stroke="#000" stroke-width="1.5"/>
<line x1="319.3" y1="262.2" x2="510.75" y2="262.2" stroke="#000" stroke-width="1.5"/>
<line x1="510" y1="262.2" x2="510" y2="431.5" stroke="#000" stroke-width="1.5"/>
<line x1="319.3" y1="431.5" x2="510.75" y2="431.5" stroke="#000" stroke-width="1.5"/>
<line x1="319.3" y1="295.6" x2="323.1" y2="295.6" stroke="#000" stroke-width="1.5"/>
<line x1="319.3" y1="328.8" x2="323.1" y2="328.8" stroke="#000" stroke-width="1.5"/>
<line x1="319.3" y1="362.5" x2="323.1" y2="362.5" stroke="#000" stroke-width="1.5"/>
<line x1="319.3" y1="395.4" x2="323.1" y2="395.4" stroke="#000" stroke-width="1.5"/>
<line x1="323.3" y1="431.5" x2="323.3" y2="440.5" stroke="#000" stroke-width="1.5"/>
<line x1="385.55" y1="431.5" x2="385.55" y2="440.5" stroke="#000" stroke-width="1.5"/>
<line x1="447.8" y1="431.5" x2="447.8" y2="440.5" stroke="#000" stroke-width="1.5"/>
<line x1="510.05" y1="431.5" x2="510.05" y2="440.5" stroke="#000" stroke-width="1.5"/>
<text x="308.6" y="272.5" font-size="16" text-anchor="end" font-weight="normal" >0.5</text>
<text x="308.6" y="302" font-size="16" text-anchor="end" font-weight="normal" >0.4</text>
<text x="308.6" y="335.2" font-size="16" text-anchor="end" font-weight="normal" >0.3</text>
<text x="308.6" y="369.2" font-size="16" text-anchor="end" font-weight="normal" >0.2</text>
<text x="308.6" y="401.3" font-size="16" text-anchor="end" font-weight="normal" >0.1</text>
<text x="308.6" y="437.1" font-size="16" text-anchor="end" font-weight="normal" >0.0</text>
<text x="323.3" y="455.5" font-size="16" text-anchor="middle" font-weight="normal" >0</text>
<text x="386.1" y="455.5" font-size="16" text-anchor="middle" font-weight="normal" >5</text>
<text x="448.1" y="455.5" font-size="16" text-anchor="middle" font-weight="normal" >10</text>
<text x="510" y="455.5" font-size="16" text-anchor="middle" font-weight="normal" >15</text>
<text x="419.5" y="474.5" font-size="19.5" text-anchor="middle" font-weight="normal" >Time (min)</text>
<text transform="translate(282.2,350.6) rotate(-90)" font-size="19.6" text-anchor="middle">ΔOD 405 nm/min</text>
<text x="267.2" y="258.3" font-size="24" text-anchor="start" font-weight="bold" >D</text>
<path d="M323.3,427.8 L335.75,421.7 L348.2,409.1 L360.65,391.1 L373.1,369.3 L385.55,348.6 L398,328.6 L410.45,312.1 L422.9,298.8 L435.35,288.3 L447.8,281.3 L460.25,276.3 L472.7,272.4 L485.15,270.9 L497.6,269.9 L510.05,268.3" fill="none" stroke="#000" stroke-width="1.0" stroke-linejoin="round"/>
<path d="M323.3,428.5 L335.75,412.3 L348.2,382.2 L360.65,350.4 L373.1,321 L385.55,299.4 L398,286.1 L410.45,277.2 L422.9,272.4 L435.35,269.9 L447.8,269 L460.25,268.4 L472.7,268.4 L485.15,268.4 L497.6,268.4 L510.05,268.4" fill="none" stroke="#000" stroke-width="1.0" stroke-linejoin="round"/>
<path d="M323.3,428.5 L335.75,409.8 L348.2,376.6 L360.65,342 L373.1,314.4 L385.55,294.4 L398,282.7 L410.45,274.7 L422.9,270.9 L435.35,269.3 L447.8,268.4 L460.25,267.8 L472.7,267.8 L485.15,267.8 L497.6,267.8 L510.05,267.8" fill="none" stroke="#000" stroke-width="1.0" stroke-linejoin="round"/>
<path d="M323.3,423.3 L327.8,427.8 L323.3,432.3 L318.8,427.8Z" fill="#fff" stroke="#000" stroke-width="1.0"/>
<path d="M335.75,417.2 L340.25,421.7 L335.75,426.2 L331.25,421.7Z" fill="#fff" stroke="#000" stroke-width="1.0"/>
<path d="M348.2,404.6 L352.7,409.1 L348.2,413.6 L343.7,409.1Z" fill="#fff" stroke="#000" stroke-width="1.0"/>
<path d="M360.65,386.6 L365.15,391.1 L360.65,395.6 L356.15,391.1Z" fill="#fff" stroke="#000" stroke-width="1.0"/>
<path d="M373.1,364.8 L377.6,369.3 L373.1,373.8 L368.6,369.3Z" fill="#fff" stroke="#000" stroke-width="1.0"/>
<path d="M385.55,344.1 L390.05,348.6 L385.55,353.1 L381.05,348.6Z" fill="#fff" stroke="#000" stroke-width="1.0"/>
<path d="M398,324.1 L402.5,328.6 L398,333.1 L393.5,328.6Z" fill="#fff" stroke="#000" stroke-width="1.0"/>
<path d="M410.45,307.6 L414.95,312.1 L410.45,316.6 L405.95,312.1Z" fill="#fff" stroke="#000" stroke-width="1.0"/>
<path d="M422.9,294.3 L427.4,298.8 L422.9,303.3 L418.4,298.8Z" fill="#fff" stroke="#000" stroke-width="1.0"/>
<path d="M435.35,283.8 L439.85,288.3 L435.35,292.8 L430.85,288.3Z" fill="#fff" stroke="#000" stroke-width="1.0"/>
<path d="M447.8,276.8 L452.3,281.3 L447.8,285.8 L443.3,281.3Z" fill="#fff" stroke="#000" stroke-width="1.0"/>
<path d="M460.25,271.8 L464.75,276.3 L460.25,280.8 L455.75,276.3Z" fill="#fff" stroke="#000" stroke-width="1.0"/>
<path d="M472.7,267.9 L477.2,272.4 L472.7,276.9 L468.2,272.4Z" fill="#fff" stroke="#000" stroke-width="1.0"/>
<path d="M485.15,266.4 L489.65,270.9 L485.15,275.4 L480.65,270.9Z" fill="#fff" stroke="#000" stroke-width="1.0"/>
<path d="M497.6,265.4 L502.1,269.9 L497.6,274.4 L493.1,269.9Z" fill="#fff" stroke="#000" stroke-width="1.0"/>
<path d="M510.05,263.8 L514.55,268.3 L510.05,272.8 L505.55,268.3Z" fill="#fff" stroke="#000" stroke-width="1.0"/>
<path d="M323.3,424.78 L326.9,430.98 L319.7,430.98Z" fill="#fff" stroke="#000" stroke-width="1.0"/>
<path d="M335.75,408.58 L339.35,414.78 L332.15,414.78Z" fill="#fff" stroke="#000" stroke-width="1.0"/>
<path d="M348.2,378.48 L351.8,384.68 L344.6,384.68Z" fill="#fff" stroke="#000" stroke-width="1.0"/>
<path d="M360.65,346.68 L364.25,352.88 L357.05,352.88Z" fill="#fff" stroke="#000" stroke-width="1.0"/>
<path d="M373.1,317.28 L376.7,323.48 L369.5,323.48Z" fill="#fff" stroke="#000" stroke-width="1.0"/>
<path d="M385.55,295.68 L389.15,301.88 L381.95,301.88Z" fill="#fff" stroke="#000" stroke-width="1.0"/>
<path d="M398,282.38 L401.6,288.58 L394.4,288.58Z" fill="#fff" stroke="#000" stroke-width="1.0"/>
<path d="M410.45,273.48 L414.05,279.68 L406.85,279.68Z" fill="#fff" stroke="#000" stroke-width="1.0"/>
<path d="M422.9,268.68 L426.5,274.88 L419.3,274.88Z" fill="#fff" stroke="#000" stroke-width="1.0"/>
<path d="M435.35,266.18 L438.95,272.38 L431.75,272.38Z" fill="#fff" stroke="#000" stroke-width="1.0"/>
<path d="M447.8,265.28 L451.4,271.48 L444.2,271.48Z" fill="#fff" stroke="#000" stroke-width="1.0"/>
<path d="M460.25,264.68 L463.85,270.88 L456.65,270.88Z" fill="#fff" stroke="#000" stroke-width="1.0"/>
<path d="M472.7,264.68 L476.3,270.88 L469.1,270.88Z" fill="#fff" stroke="#000" stroke-width="1.0"/>
<path d="M485.15,264.68 L488.75,270.88 L481.55,270.88Z" fill="#fff" stroke="#000" stroke-width="1.0"/>
<path d="M497.6,264.68 L501.2,270.88 L494,270.88Z" fill="#fff" stroke="#000" stroke-width="1.0"/>
<path d="M510.05,264.68 L513.65,270.88 L506.45,270.88Z" fill="#fff" stroke="#000" stroke-width="1.0"/>
<path d="M323.3,425.02 L326.7,430.82 L319.9,430.82Z" fill="#000" stroke="#000" stroke-width="0.6"/>
<path d="M335.75,406.32 L339.15,412.12 L332.35,412.12Z" fill="#000" stroke="#000" stroke-width="0.6"/>
<path d="M348.2,373.12 L351.6,378.92 L344.8,378.92Z" fill="#000" stroke="#000" stroke-width="0.6"/>
<path d="M360.65,338.52 L364.05,344.32 L357.25,344.32Z" fill="#000" stroke="#000" stroke-width="0.6"/>
<path d="M373.1,310.92 L376.5,316.72 L369.7,316.72Z" fill="#000" stroke="#000" stroke-width="0.6"/>
<path d="M385.55,290.92 L388.95,296.72 L382.15,296.72Z" fill="#000" stroke="#000" stroke-width="0.6"/>
<path d="M398,279.22 L401.4,285.02 L394.6,285.02Z" fill="#000" stroke="#000" stroke-width="0.6"/>
<path d="M410.45,271.22 L413.85,277.02 L407.05,277.02Z" fill="#000" stroke="#000" stroke-width="0.6"/>
<path d="M422.9,267.42 L426.3,273.22 L419.5,273.22Z" fill="#000" stroke="#000" stroke-width="0.6"/>
<path d="M435.35,265.82 L438.75,271.62 L431.95,271.62Z" fill="#000" stroke="#000" stroke-width="0.6"/>
<path d="M447.8,264.92 L451.2,270.72 L444.4,270.72Z" fill="#000" stroke="#000" stroke-width="0.6"/>
<path d="M460.25,264.32 L463.65,270.12 L456.85,270.12Z" fill="#000" stroke="#000" stroke-width="0.6"/>
<path d="M472.7,264.32 L476.1,270.12 L469.3,270.12Z" fill="#000" stroke="#000" stroke-width="0.6"/>
<path d="M485.15,264.32 L488.55,270.12 L481.75,270.12Z" fill="#000" stroke="#000" stroke-width="0.6"/>
<path d="M497.6,264.32 L501,270.12 L494.2,270.12Z" fill="#000" stroke="#000" stroke-width="0.6"/>
<path d="M510.05,264.32 L513.45,270.12 L506.65,270.12Z" fill="#000" stroke="#000" stroke-width="0.6"/>
</svg>
</body></html>
